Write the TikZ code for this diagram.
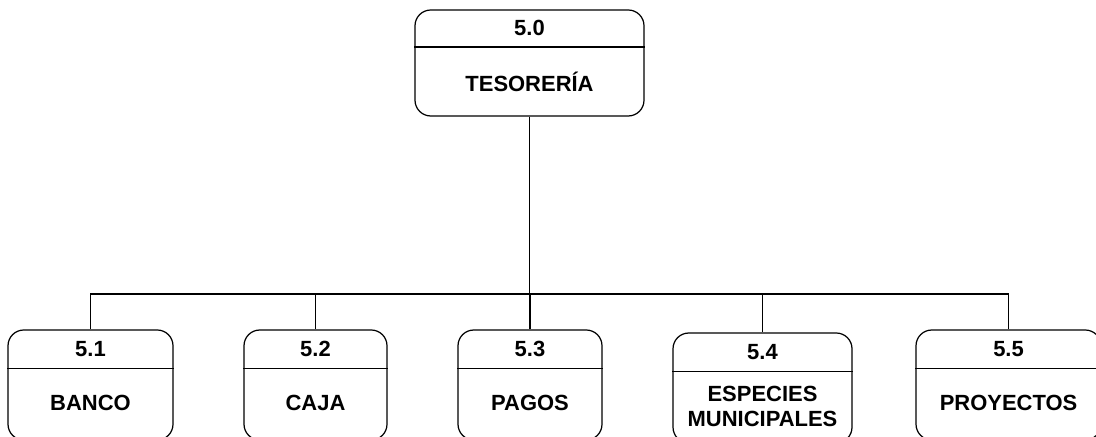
\documentclass[tikz,border=0pt]{standalone}
\usepackage{fontspec}
\setmainfont{Liberation Sans}
\usetikzlibrary{calc}
\tikzset{
  unitbox/.style={draw, rounded corners=9pt, line width=0.7pt, inner sep=0pt, minimum height=2.20cm},
  unitnum/.style={font=\bfseries\fontsize{12.5}{14.2}\selectfont, inner sep=0pt},
  unitname/.style={align=center, font=\bfseries\fontsize{12.5}{14.2}\selectfont, inner sep=0pt},
  unitrule/.style={line width=0.7pt},
  orgline/.style={line width=0.7pt}
}

\begin{document}
\begin{tikzpicture}
\clip (0,0) rectangle (21.92,8.72);
% head of the department
\node[unitbox, minimum width=4.58cm, minimum height=2.12cm] (u50) at (10.59,7.46) {};
\node[unitnum] (n50) at ($(u50.north)!0.175!(u50.south)$) {5.0};
\node[unitname] (t50) at ($(u50.north)!0.675!(u50.south)$) {TESORERÍA};
% sections
\node[unitbox, minimum width=3.30cm] (u51) at (1.81,1.02) {};
\node[unitnum] (n51) at ($(u51.north)!0.175!(u51.south)$) {5.1};
\node[unitname] (t51) at ($(u51.north)!0.665!(u51.south)$) {BANCO};
\node[unitbox, minimum width=2.86cm] (u52) at (6.31,1.02) {};
\node[unitnum] (n52) at ($(u52.north)!0.175!(u52.south)$) {5.2};
\node[unitname] (t52) at ($(u52.north)!0.665!(u52.south)$) {CAJA};
\node[unitbox, minimum width=2.88cm] (u53) at (10.60,1.02) {};
\node[unitnum] (n53) at ($(u53.north)!0.175!(u53.south)$) {5.3};
\node[unitname] (t53) at ($(u53.north)!0.665!(u53.south)$) {PAGOS};
\node[unitbox, minimum width=3.58cm] (u54) at (15.25,0.96) {};
\node[unitnum] (n54) at ($(u54.north)!0.175!(u54.south)$) {5.4};
\node[unitname] (t54) at ($(u54.north)!0.665!(u54.south)$) {ESPECIES\\MUNICIPALES};
\node[unitbox, minimum width=3.70cm] (u55) at (20.17,1.02) {};
\node[unitnum] (n55) at ($(u55.north)!0.175!(u55.south)$) {5.5};
\node[unitname] (t55) at ($(u55.north)!0.665!(u55.south)$) {PROYECTOS};
% header rules
\foreach \u in {u50,u51,u52,u53,u54,u55}
  \draw[unitrule] ($(\u.north west)!0.35!(\u.south west)$) -- ($(\u.north east)!0.35!(\u.south east)$);
% tree lines
\coordinate (bus) at (10.59,2.84);
\draw[orgline] (u50.south) -- (bus);
\foreach \u in {u51,u52,u53,u54,u55}
  \draw[orgline] (\u.north) |- (bus);
\end{tikzpicture}
\end{document}
